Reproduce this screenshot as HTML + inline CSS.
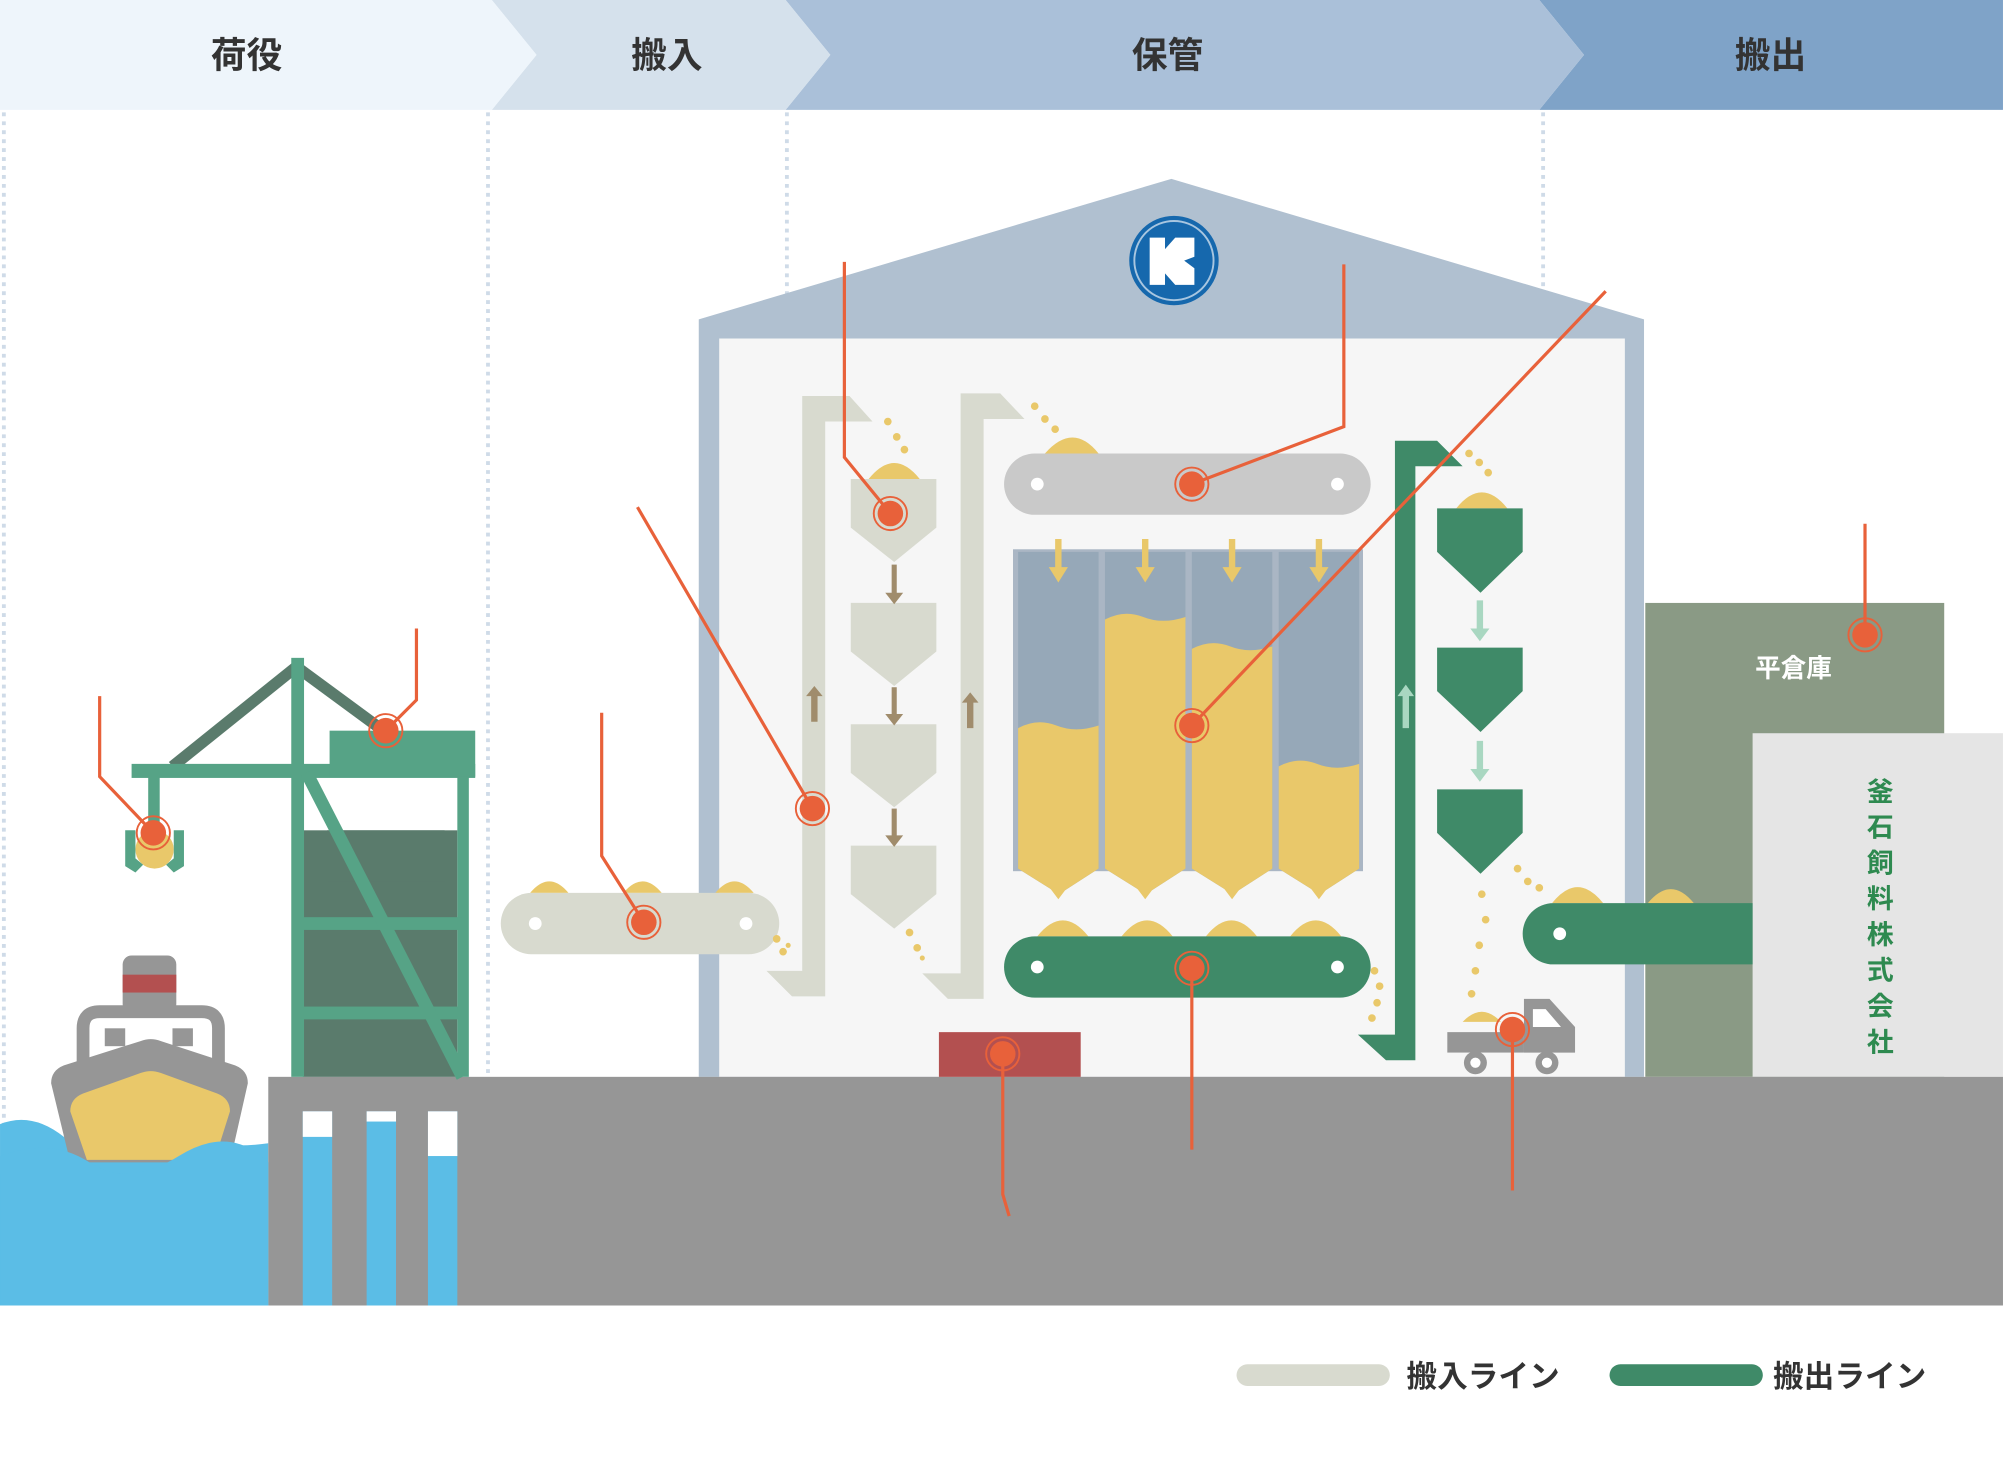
<!DOCTYPE html>
<html><head><meta charset="utf-8"><style>
html,body{margin:0;padding:0;background:#fff;width:2003px;height:1469px;overflow:hidden}
svg{display:block}
text{font-family:"Liberation Sans","Noto Sans CJK JP",sans-serif;font-weight:bold}
</style></head><body>
<svg width="2003" height="1469" viewBox="0 0 1568 1150" xmlns="http://www.w3.org/2000/svg">
<rect width="1568" height="1150" fill="#fff"/>
<!-- header -->
<polygon points="1205,0 1568,0 1568,86 1205,86 1240,43" fill="#7fa3c8"/>
<polygon points="615,0 1205,0 1240,43 1205,86 615,86 650,43" fill="#aac0d9"/>
<polygon points="385,0 615,0 650,43 615,86 385,86 420,43" fill="#d5e1ec"/>
<polygon points="0,0 385,0 420,43 385,86 0,86" fill="#eef5fb"/>
<g font-size="28" fill="#333" text-anchor="middle">
<text x="193" y="53">荷役</text><text x="522" y="53">搬入</text><text x="914" y="53">保管</text><text x="1386" y="53">搬出</text></g>
<g stroke="#cfdbe8" stroke-width="3" stroke-dasharray="3,4">
<line x1="3" y1="88" x2="3" y2="900"/><line x1="382" y1="88" x2="382" y2="843"/><line x1="616" y1="88" x2="616" y2="843"/><line x1="1208" y1="88" x2="1208" y2="843"/></g>
<!-- building -->
<polygon points="547,250 917,140 1287,250 1287,843 547,843" fill="#b0c0d0"/>
<rect x="563" y="265" width="709" height="578" fill="#f6f6f6"/>
<circle cx="919" cy="204" r="35" fill="#1668ad"/>
<circle cx="919" cy="204" r="31" fill="none" stroke="#a8c6e0" stroke-width="1.5"/>
<polygon points="900,186 912,186 912,195 920,186 935,186 935,201 927,204 935,210 935,223 920,223 912,214 912,223 900,223" fill="#fff"/>
<!-- flat warehouse -->
<rect x="1288" y="472" width="234" height="371" fill="#8a9a85"/>
<text x="1404" y="530" font-size="20" fill="#fff" text-anchor="middle">平倉庫</text>
<rect x="1372" y="574" width="196" height="269" fill="#e5e5e5"/>
<g font-size="21" fill="#2e8a50" text-anchor="middle">
<text x="1472" y="627">釜</text><text x="1472" y="655">石</text><text x="1472" y="683">飼</text><text x="1472" y="711">料</text><text x="1472" y="739">株</text><text x="1472" y="767">式</text><text x="1472" y="795">会</text><text x="1472" y="823">社</text></g>
<!-- ground -->
<path d="M0,880 Q25,870 50,890 T100,895 T150,890 T210,895 L210,1022 L0,1022Z" fill="#5bbde6"/>
<rect x="210" y="843" width="1358" height="179" fill="#969696"/>
<rect x="237" y="870" width="23" height="152" fill="#5bbde6"/><rect x="287" y="870" width="23" height="152" fill="#5bbde6"/><rect x="335" y="870" width="23" height="152" fill="#5bbde6"/>
<rect x="237" y="870" width="23" height="20" fill="#fff"/><rect x="287" y="870" width="23" height="8" fill="#fff"/><rect x="335" y="870" width="23" height="35" fill="#fff"/>
<!-- ship -->
<rect x="96" y="748" width="42" height="45" rx="7" fill="#969696"/>
<rect x="96" y="763" width="42" height="14" fill="#b35050"/>
<path d="M65,835 L65,805 Q65,792 78,792 L158,792 Q171,792 171,805 L171,835" fill="none" stroke="#969696" stroke-width="10"/>
<rect x="82" y="805" width="16" height="14" fill="#969696"/><rect x="135" y="805" width="16" height="14" fill="#969696"/>
<path d="M40,848 Q40,838 50,834 L110,815 Q118,812 126,815 L184,834 Q194,838 194,848 L180,910 L55,910Z" fill="#969696"/>
<path d="M55,870 Q55,860 65,856 L110,840 Q118,837 126,840 L170,856 Q180,860 180,870 L168,908 L68,908Z" fill="#e9c86a"/>
<path d="M0,905 Q40,890 70,910 T140,905 T210,910 L210,1022 L0,1022Z" fill="#5bbde6"/>
<!-- crane -->
<rect x="237" y="650" width="121" height="193" fill="#5a7b6c"/>
<rect x="256" y="650" width="92" height="40" fill="#5a7b6c"/>
<line x1="232" y1="522" x2="135" y2="600" stroke="#5a7b6c" stroke-width="9"/>
<line x1="232" y1="522" x2="300" y2="572" stroke="#5a7b6c" stroke-width="9"/>
<rect x="228" y="515" width="10" height="328" fill="#56a386"/>
<rect x="358" y="600" width="9" height="243" fill="#56a386"/>
<rect x="103" y="598" width="269" height="11" fill="#56a386"/>
<rect x="258" y="572" width="114" height="36" fill="#56a386"/>
<rect x="237" y="718" width="125" height="10" fill="#56a386"/><rect x="237" y="788" width="125" height="10" fill="#56a386"/>
<line x1="240" y1="605" x2="362" y2="843" stroke="#56a386" stroke-width="10"/>
<rect x="116" y="608" width="9" height="45" fill="#56a386"/>
<circle cx="121" cy="665" r="15" fill="#e9c86a"/>
<path d="M98,650 L106,650 L106,672 L112,677 L106,683 L98,678Z" fill="#56a386"/>
<path d="M144,650 L136,650 L136,672 L130,677 L136,683 L144,678Z" fill="#56a386"/>
<!-- left conveyor -->
<path d="M415,699 q15,-18 30,0Z M488,699 q15,-18 30,0Z M560,699 q15,-18 30,0Z" fill="#e9c86a"/>
<rect x="392" y="699" width="218" height="48" rx="24" fill="#d8dacf"/>
<circle cx="419" cy="723" r="5" fill="#fff"/><circle cx="584" cy="723" r="5" fill="#fff"/>
<!-- elevators -->
<path d="M628,310 L665,310 L683,330 L646,330 L646,780 L620,780 L600,760 L628,760Z" fill="#d8dacf"/>
<path d="M752,308 L783,308 L802,328 L770,328 L770,782 L742,782 L722,762 L752,762Z" fill="#d8dacf"/>
<g fill="#a08c6c"><path d="M635,565 h5 v-20 h4 l-6.5,-8 l-6.5,8 h4Z"/><path d="M757,570 h5 v-20 h4 l-6.5,-8 l-6.5,8 h4Z"/></g>
<g fill="#e9c86a"><circle cx="608" cy="735" r="3"/><circle cx="613" cy="745" r="3"/><circle cx="617" cy="740" r="2"/><circle cx="712" cy="730" r="3"/><circle cx="718" cy="742" r="3"/><circle cx="722" cy="750" r="2"/><circle cx="695" cy="330" r="3"/><circle cx="702" cy="342" r="3"/><circle cx="708" cy="352" r="3"/><circle cx="810" cy="318" r="3"/><circle cx="818" cy="328" r="3"/><circle cx="826" cy="336" r="3"/></g>
<!-- hoppers -->
<path d="M680,375 q20,-25 40,0Z" fill="#e9c86a"/>
<g fill="#d8dacf">
<path d="M666,375 h67 v38 l-33,27 l-34,-27Z"/><path d="M666,472 h67 v38 l-33,27 l-34,-27Z"/><path d="M666,567 h67 v38 l-33,27 l-34,-27Z"/><path d="M666,662 h67 v38 l-33,27 l-34,-27Z"/></g>
<g stroke="#a08c6c" stroke-width="4"><line x1="700" y1="442" x2="700" y2="468"/><line x1="700" y1="538" x2="700" y2="563"/><line x1="700" y1="633" x2="700" y2="658"/></g>
<g fill="#a08c6c"><path d="M693,464 h14 l-7,9Z"/><path d="M693,559 h14 l-7,9Z"/><path d="M693,654 h14 l-7,9Z"/></g>
<!-- top conveyor -->
<path d="M818,355 q22,-25 42,0Z" fill="#e9c86a"/>
<rect x="786" y="355" width="287" height="48" rx="24" fill="#c9c9c9"/>
<circle cx="812" cy="379" r="5" fill="#fff"/><circle cx="1047" cy="379" r="5" fill="#fff"/>
<!-- silos -->
<g>
<rect x="793" y="430" width="274" height="252" fill="#aab6c4"/>
<g fill="#96a8b8">
<path d="M797,432 h63 v248 l-31,20 l-32,-20Z"/><path d="M865,432 h63 v248 l-31,20 l-32,-20Z"/><path d="M933,432 h63 v248 l-31,20 l-32,-20Z"/><path d="M1001,432 h63 v248 l-31,20 l-32,-20Z"/></g>
<g fill="#e9c86a">
<path d="M797,570 q15,-8 30,-2 t33,0 v112 l-31,20 l-32,-20Z"/>
<path d="M865,485 q15,-8 30,-2 t33,0 v197 l-31,20 l-32,-20Z"/>
<path d="M933,508 q15,-8 30,-2 t33,0 v174 l-31,20 l-32,-20Z"/>
<path d="M1001,600 q15,-8 30,-2 t33,0 v82 l-31,20 l-32,-20Z"/></g>
<g fill="#e9c86a"><path d="M826,422 h5 v22 h5 l-7.5,12 l-7.5,-12 h5Z"/><path d="M894,422 h5 v22 h5 l-7.5,12 l-7.5,-12 h5Z"/><path d="M962,422 h5 v22 h5 l-7.5,12 l-7.5,-12 h5Z"/><path d="M1030,422 h5 v22 h5 l-7.5,12 l-7.5,-12 h5Z"/>
<path d="M826,682 h5 v12 h5 l-7.5,10 l-7.5,-10 h5Z"/><path d="M894,682 h5 v12 h5 l-7.5,10 l-7.5,-10 h5Z"/><path d="M962,682 h5 v12 h5 l-7.5,10 l-7.5,-10 h5Z"/><path d="M1030,682 h5 v12 h5 l-7.5,10 l-7.5,-10 h5Z"/></g>
</g>
<!-- bottom green conveyor -->
<path d="M812,733 q20,-25 40,0Z M878,733 q20,-25 40,0Z M944,733 q20,-25 40,0Z M1010,733 q20,-25 40,0Z" fill="#e9c86a"/>
<rect x="786" y="733" width="287" height="48" rx="24" fill="#3f8a68"/>
<circle cx="812" cy="757" r="5" fill="#fff"/><circle cx="1047" cy="757" r="5" fill="#fff"/>
<g fill="#e9c86a"><circle cx="1076" cy="760" r="3"/><circle cx="1080" cy="772" r="3"/><circle cx="1078" cy="785" r="3"/><circle cx="1074" cy="797" r="3"/></g>
<!-- green elevator -->
<path d="M1092,345 L1125,345 L1145,365 L1108,365 L1108,830 L1085,830 L1063,810 L1092,810Z" fill="#3f8a68"/>
<path d="M1098,570 h5 v-25 h4 l-6.5,-9 l-6.5,9 h4Z" fill="#a9d7c1"/>
<g fill="#e9c86a"><circle cx="1150" cy="355" r="3"/><circle cx="1158" cy="362" r="3"/><circle cx="1165" cy="370" r="3"/><circle cx="1188" cy="680" r="3"/><circle cx="1196" cy="690" r="3"/><circle cx="1205" cy="695" r="3"/><circle cx="1160" cy="700" r="3"/><circle cx="1163" cy="720" r="3"/><circle cx="1158" cy="740" r="3"/><circle cx="1155" cy="760" r="3"/><circle cx="1152" cy="778" r="3"/></g>
<path d="M1140,398 q20,-25 40,0Z" fill="#e9c86a"/>
<g fill="#3f8a68"><path d="M1125,398 h67 v34 l-33,32 l-34,-32Z"/><path d="M1125,507 h67 v34 l-33,32 l-34,-32Z"/><path d="M1125,618 h67 v34 l-33,32 l-34,-32Z"/></g>
<g fill="#a9d7c1"><path d="M1156,470 h5 v22 h5 l-7.5,10 l-7.5,-10 h5Z"/><path d="M1156,580 h5 v22 h5 l-7.5,10 l-7.5,-10 h5Z"/></g>
<!-- right conveyor -->
<path d="M1215,707 q20,-25 40,0Z M1290,707 q18,-22 36,0Z" fill="#e9c86a"/>
<path d="M1216,707 H1372 V755 H1216 a24,24 0 0 1 0,-48Z" fill="#3f8a68"/>
<circle cx="1221" cy="731" r="5" fill="#fff"/>
<!-- truck -->
<path d="M1145,800 q15,-16 30,0Z" fill="#e9c86a"/>
<rect x="1133" y="808" width="60" height="16" fill="#969696"/>
<path d="M1193,782 h20 l20,22 v20 h-40Z" fill="#969696"/><path d="M1200,790 h10 l12,14 h-22Z" fill="#fff"/>
<circle cx="1155" cy="832" r="9" fill="#969696"/><circle cx="1155" cy="832" r="4" fill="#fff"/>
<circle cx="1211" cy="832" r="9" fill="#969696"/><circle cx="1211" cy="832" r="4" fill="#fff"/>
<!-- red box -->
<rect x="735" y="808" width="111" height="35" fill="#b35050"/>
<!-- leaders -->
<g stroke="#e8613a" stroke-width="2.5" fill="none">
<polyline points="78,545 78,608 120,652"/><polyline points="326,492 326,548 302,572"/><polyline points="471,558 471,670 504,722"/>
<polyline points="499,397 636,633"/><polyline points="661,205 661,358 697,402"/><polyline points="1052,207 1052,334 933,379"/>
<polyline points="1257,228 933,568"/><polyline points="933,758 933,900"/><polyline points="785,825 785,935 790,952"/>
<polyline points="1184,806 1184,932"/><polyline points="1460,410 1460,497"/></g>
<g>
<circle cx="120" cy="652" r="10" fill="#e8613a"/><circle cx="120" cy="652" r="13" fill="none" stroke="#e8613a" stroke-width="1.5"/>
<circle cx="302" cy="572" r="10" fill="#e8613a"/><circle cx="302" cy="572" r="13" fill="none" stroke="#e8613a" stroke-width="1.5"/>
<circle cx="504" cy="722" r="10" fill="#e8613a"/><circle cx="504" cy="722" r="13" fill="none" stroke="#e8613a" stroke-width="1.5"/>
<circle cx="636" cy="633" r="10" fill="#e8613a"/><circle cx="636" cy="633" r="13" fill="none" stroke="#e8613a" stroke-width="1.5"/>
<circle cx="697" cy="402" r="10" fill="#e8613a"/><circle cx="697" cy="402" r="13" fill="none" stroke="#e8613a" stroke-width="1.5"/>
<circle cx="933" cy="379" r="10" fill="#e8613a"/><circle cx="933" cy="379" r="13" fill="none" stroke="#e8613a" stroke-width="1.5"/>
<circle cx="933" cy="568" r="10" fill="#e8613a"/><circle cx="933" cy="568" r="13" fill="none" stroke="#e8613a" stroke-width="1.5"/>
<circle cx="933" cy="758" r="10" fill="#e8613a"/><circle cx="933" cy="758" r="13" fill="none" stroke="#e8613a" stroke-width="1.5"/>
<circle cx="785" cy="825" r="10" fill="#e8613a"/><circle cx="785" cy="825" r="13" fill="none" stroke="#e8613a" stroke-width="1.5"/>
<circle cx="1184" cy="806" r="10" fill="#e8613a"/><circle cx="1184" cy="806" r="13" fill="none" stroke="#e8613a" stroke-width="1.5"/>
<circle cx="1460" cy="497" r="10" fill="#e8613a"/><circle cx="1460" cy="497" r="13" fill="none" stroke="#e8613a" stroke-width="1.5"/>
</g>
<!-- legend -->
<rect x="968" y="1068" width="120" height="17" rx="8.5" fill="#d8dacf"/>
<text x="1101" y="1086" font-size="24" fill="#333">搬入ライン</text>
<rect x="1260" y="1068" width="120" height="17" rx="8.5" fill="#3f8a68"/>
<text x="1388" y="1086" font-size="24" fill="#333">搬出ライン</text>
</svg>
</body></html>
